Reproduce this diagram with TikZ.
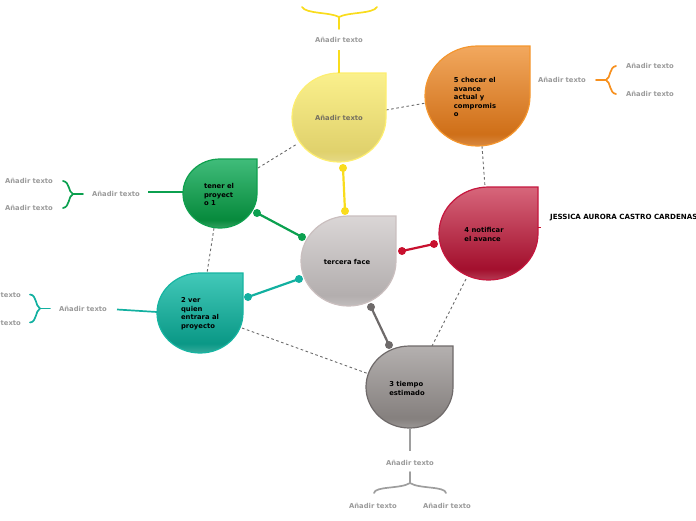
\documentclass[tikz,border=0pt]{standalone}
\usepackage{fontspec}
\setmainfont{DejaVu Sans}
\definecolor{yTop}{HTML}{FAF08C}\definecolor{yBot}{HTML}{E0D16C}\definecolor{yEdge}{HTML}{FDEE70}\definecolor{yLine}{HTML}{F9DC1C}
\definecolor{oTop}{HTML}{F2A85E}\definecolor{oBot}{HTML}{CF6F18}\definecolor{oEdge}{HTML}{F4962E}\definecolor{oLine}{HTML}{F7901E}
\definecolor{gTop}{HTML}{40BC7A}\definecolor{gBot}{HTML}{078A3C}\definecolor{gEdge}{HTML}{0FA04E}\definecolor{gLine}{HTML}{0BA04F}
\definecolor{cTop}{HTML}{DAD6D6}\definecolor{cBot}{HTML}{B3AEAE}\definecolor{cEdge}{HTML}{CABFBF}
\definecolor{rTop}{HTML}{D7667B}\definecolor{rBot}{HTML}{A30F2D}\definecolor{rEdge}{HTML}{C5173E}\definecolor{rLine}{HTML}{C8102E}
\definecolor{tTop}{HTML}{42C9B9}\definecolor{tBot}{HTML}{0A9886}\definecolor{tEdge}{HTML}{16B5A2}\definecolor{tLine}{HTML}{12B0A0}
\definecolor{kTop}{HTML}{B4B0AF}\definecolor{kBot}{HTML}{85807E}\definecolor{kEdge}{HTML}{6F6A6A}\definecolor{kLine}{HTML}{6E6A6A}
\definecolor{kSub}{HTML}{9E9E9E}
\definecolor{subText}{HTML}{9A9A9A}\definecolor{inText}{HTML}{757060}\definecolor{dashGray}{HTML}{6A6A6A}
\newcommand\mkshade[3]{%
  \colorlet{#1lt}{#3!82!white}%
  \pgfdeclareverticalshading{#1}{100bp}{color(0bp)=(#1lt); color(25bp)=(#1lt); color(31bp)=(#3); color(75bp)=(#2); color(100bp)=(#2)}}
\mkshade{yShade}{yTop}{yBot}
\mkshade{oShade}{oTop}{oBot}
\mkshade{gShade}{gTop}{gBot}
\mkshade{cShade}{cTop}{cBot}
\mkshade{rShade}{rTop}{rBot}
\mkshade{tShade}{tTop}{tBot}
\mkshade{kShade}{kTop}{kBot}
\newcommand\mydrop[4]{%
  \path[#4] (#1.east) arc[start angle=0,end angle=-270,x radius=#2pt,y radius=#3pt] -- (#1.north east) -- cycle;}
\begin{document}
\begin{tikzpicture}[x=1pt,y=-1pt,
  area/.style={draw=none,inner sep=0pt,outer sep=0pt,rectangle},
  lbl/.style={inner sep=0pt,align=left,font=\bfseries\fontsize{6.8}{8.5}\selectfont,text=black},
  sub/.style={inner sep=0pt,font=\bfseries\fontsize{6.8}{8.5}\selectfont,text=subText},
  dashlink/.style={draw=dashGray,line width=0.9pt,dash pattern=on 2.6pt off 2.6pt},
  mainlink/.style={line width=2.2pt},
  subline/.style={line width=1.7pt},
  brace/.style={line width=1.7pt,line cap=round}]
\useasboundingbox (0,0) rectangle (696,520);
% shapes (invisible areas)
\node[area,minimum width=94pt,minimum height=89pt] (yel) at (339,117.5) {};
\node[area,minimum width=105pt,minimum height=100pt] (org) at (477.5,96) {};
\node[area,minimum width=74pt,minimum height=69pt] (grn) at (220,193.5) {};
\node[area,minimum width=95pt,minimum height=90pt] (cen) at (348.5,261) {};
\node[area,minimum width=99pt,minimum height=93pt] (red) at (488.5,233.5) {};
\node[area,minimum width=86pt,minimum height=80pt] (teal) at (200,313) {};
\node[area,minimum width=87pt,minimum height=82pt] (gry) at (409.5,387) {};
% dashed links
\coordinate (d1a) at (258,168); \coordinate (d1b) at (297,144);
\coordinate (d2a) at (386,110); \coordinate (d2b) at (426,103);
\coordinate (d3a) at (482,146); \coordinate (d3b) at (485,187);
\coordinate (d4a) at (214,228); \coordinate (d4b) at (207,273);
\coordinate (d5a) at (466,279); \coordinate (d5b) at (432,346);
\coordinate (d6a) at (242,328); \coordinate (d6b) at (369,374);
\draw[dashlink] (d1a) -- (d1b);
\draw[dashlink] (d2a) -- (d2b);
\draw[dashlink] (d3a) -- (d3b);
\draw[dashlink] (d4a) -- (d4b);
\draw[dashlink] (d5a) -- (d5b);
\draw[dashlink] (d6a) -- (d6b);
% drops
\mydrop{yel}{47}{44.5}{shading=yShade,draw=yEdge,line width=1.2pt}
\mydrop{org}{52.5}{50}{shading=oShade,draw=oEdge,line width=1.2pt}
\mydrop{grn}{37}{34.5}{shading=gShade,draw=gEdge,line width=1.2pt}
\mydrop{cen}{47.5}{45}{shading=cShade,draw=cEdge,line width=1.2pt}
\mydrop{red}{49.5}{46.5}{shading=rShade,draw=rEdge,line width=1.2pt}
\mydrop{teal}{43}{40}{shading=tShade,draw=tEdge,line width=1.2pt}
\mydrop{gry}{43.5}{41}{shading=kShade,draw=kEdge,line width=1.2pt}
% labels
\node[lbl,text=inText] (yelt) at (yel.center) {Añadir texto};
\node[lbl] (orgt) at (475,97) {5 checar el\\avance\\actual y\\compromis\\o};
\node[lbl] (grnt) at (219,194.5) {tener el\\proyect\\o 1};
\node[lbl] (cent) at (347,261.5) {tercera face};
\node[lbl] (redt) at (484,234.5) {4 notificar\\el avance};
\node[lbl] (tealt) at (200,313.5) {2 ver\\quien\\entrara al\\proyecto};
\node[lbl] (gryt) at (407,388.5) {3 tiempo\\estimado};
% main connectors with dots
\coordinate (yA) at (343,168); \coordinate (yB) at (345,211);
\coordinate (gA) at (257,213); \coordinate (gB) at (302,237);
\coordinate (tA) at (248,297); \coordinate (tB) at (299,279);
\coordinate (rA) at (402,251); \coordinate (rB) at (434,244);
\coordinate (kA) at (371,307); \coordinate (kB) at (389,345);
\draw[mainlink,yLine] (yA) -- (yB); \fill[yLine] (yA) circle (4pt) (yB) circle (4pt);
\draw[mainlink,gLine] (gA) -- (gB); \fill[gLine] (gA) circle (4pt) (gB) circle (4pt);
\draw[mainlink,tLine] (tA) -- (tB); \fill[tLine] (tA) circle (4pt) (tB) circle (4pt);
\draw[mainlink,rLine] (rA) -- (rB); \fill[rLine] (rA) circle (4pt) (rB) circle (4pt);
\draw[mainlink,kLine] (kA) -- (kB); \fill[kLine] (kA) circle (4pt) (kB) circle (4pt);
% yellow subtopic
\node[sub] (ysub) at (339,40) {Añadir texto};
\coordinate (yS) at (339,50);
\draw[subline,yLine] (yel.north) -- (yS);
\coordinate (yJ) at (339,17); \coordinate (yJs) at (339,29);
\coordinate (yL) at (302,7); \coordinate (yR) at (377,7);
\draw[brace,yLine] (yJs) -- (yJ);
\draw[brace,yLine] (yL) .. controls (306,14) and (330,12) .. (yJ) .. controls (348,12) and (373,14) .. (yR);
% orange subtopic
\node[sub] (osub) at (562,80) {Añadir texto};
\node[sub] (osub1) at (650,66) {Añadir texto};
\node[sub] (osub2) at (650,94) {Añadir texto};
\coordinate (oS) at (596,80); \coordinate (oJ) at (606,80);
\coordinate (oU) at (616,66); \coordinate (oD) at (616,94);
\draw[brace,oLine] (oS) -- (oJ);
\draw[brace,oLine] (oU) .. controls (609,67) and (611,78) .. (oJ) .. controls (611,82) and (609,93) .. (oD);
% green subtopic
\node[sub] (gsub) at (116,194) {Añadir texto};
\node[sub] (gsub1) at (29,181) {Añadir texto};
\node[sub] (gsub2) at (29,208) {Añadir texto};
\coordinate (gE) at (148,192);
\draw[subline,gLine] (grn.west) ++(0,-1.5) coordinate (gW) (gW) -- (gE);
\coordinate (gS) at (83,194); \coordinate (gJ) at (73,194);
\coordinate (gU) at (63,181); \coordinate (gD) at (63,208);
\draw[brace,gLine] (gS) -- (gJ);
\draw[brace,gLine] (gU) .. controls (70,182) and (68,192) .. (gJ) .. controls (68,196) and (70,207) .. (gD);
% teal subtopic
\node[sub] (tsub) at (83,308.5) {Añadir texto};
\node[sub] (tsub1) at (-3,294.5) {Añadir texto};
\node[sub] (tsub2) at (-3,322.5) {Añadir texto};
\coordinate (tW) at (157,312); \coordinate (tE) at (117,309.5);
\draw[subline,tLine] (tW) -- (tE);
\coordinate (tS) at (50,308.5); \coordinate (tJ) at (40,308.5);
\coordinate (tU) at (30,294.5); \coordinate (tD) at (30,322.5);
\draw[brace,tLine] (tS) -- (tJ);
\draw[brace,tLine] (tU) .. controls (37,295) and (35,306) .. (tJ) .. controls (35,311) and (37,322) .. (tD);
% gray subtopic
\node[sub] (ksub) at (410,462.5) {Añadir texto};
\node[sub] (ksub1) at (373,505.5) {Añadir texto};
\node[sub] (ksub2) at (447,505.5) {Añadir texto};
\coordinate (kS) at (410,451);
\draw[subline,kSub] (gry.south) ++(0.5,0) coordinate (kT) (kT) -- (kS);
\coordinate (kJs) at (410,472); \coordinate (kJ) at (410,483);
\coordinate (kL) at (374,493); \coordinate (kR) at (446,493);
\draw[brace,kSub] (kJs) -- (kJ);
\draw[brace,kSub] (kL) .. controls (375,486) and (401,489) .. (kJ) .. controls (419,489) and (445,486) .. (kR);
% floating title
\coordinate (rT1) at (538,227); \coordinate (rT2) at (541,227);
\draw[rLine,line width=1pt] (rT1) -- (rT2);
\node[lbl,anchor=west,font=\bfseries\fontsize{7.1}{8.5}\selectfont] (jes) at (550,218) {JESSICA AURORA CASTRO CARDENAS};
\end{tikzpicture}
\end{document}
